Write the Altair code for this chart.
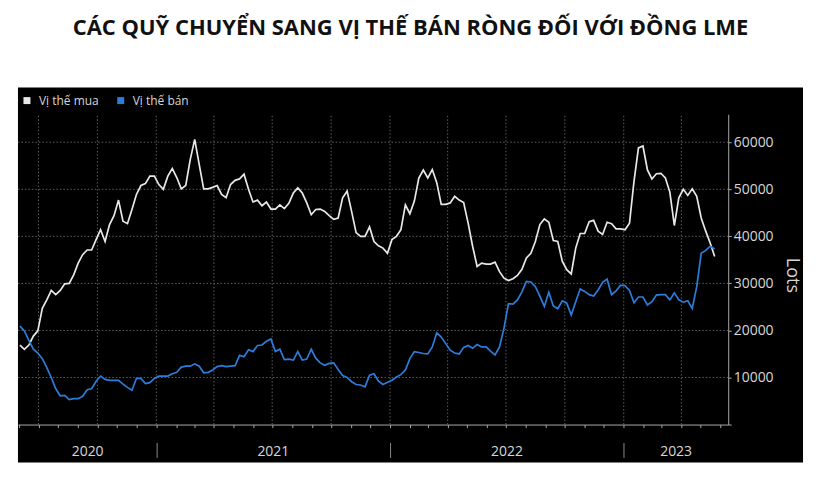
import altair as alt
import pandas as pd

# ---------------- data (weekly, lots) ----------------
first_week = "2020-06-02"
series_names = ["Vị thế mua", "Vị thế bán"]

long_lots = [
    16900, 16000, 16900, 18800, 19900, 24700, 26500, 28500, 27600, 28500,
    29900, 30000, 31800, 34300, 36100, 37100, 37100, 39300, 41400, 38900,
    42500, 44400, 47700, 43200, 42700, 45700, 48900, 50800, 51200, 52800,
    52800, 51000, 50000, 52800, 54400, 52500, 50100, 50800, 56300, 60600,
    55300, 50100, 50100, 50400, 50800, 48900, 48200, 51000, 51900, 52200,
    53200, 50000, 47300, 47700, 46500, 47300, 45800, 45800, 46700, 45900,
    47000, 49200, 50300, 49200, 47100, 44600, 45700, 45800, 45300, 44400,
    43600, 43900, 48200, 49600, 45300, 40800, 40000, 40000, 42000, 38900,
    38000, 37500, 36400, 39300, 40000, 41400, 46700, 44800, 47500, 52400,
    54100, 52400, 54200, 51400, 46800, 46800, 47100, 48500, 47700, 47200,
    42800, 37900, 33600, 34300, 34100, 34100, 34500, 32500, 31100, 30600,
    31000, 31700, 33000, 35400, 36400, 38900, 42500, 43700, 43000, 39100,
    38900, 34700, 32900, 32000, 37500, 40600, 40600, 43100, 43400, 41100,
    40400, 43000, 42700, 41600, 41600, 41400, 42800, 51700, 58800, 59200,
    54100, 52200, 53300, 53400, 52400, 49400, 42300, 48200, 50000, 48700,
    50100, 48500, 43900, 41100, 38600, 35700,
]

short_lots = [
    20900, 19900, 17900, 16000, 15200, 14000, 12100, 10000, 7600, 6100,
    6200, 5300, 5500, 5500, 6000, 7400, 7600, 9200, 10300, 9600,
    9400, 9400, 9400, 8600, 7900, 7300, 9800, 9800, 8700, 8900,
    9800, 10300, 10300, 10300, 10800, 11100, 12200, 12400, 12400, 12900,
    12400, 11000, 11100, 11600, 12300, 12500, 12300, 12400, 12500, 14700,
    14400, 15900, 15500, 16800, 16900, 17700, 18200, 15500, 16000, 13800,
    13900, 13700, 15500, 13700, 13900, 16000, 14100, 13100, 12600, 13000,
    13100, 11700, 10400, 10000, 9100, 8500, 8400, 8000, 10500, 10800,
    9200, 8500, 9000, 9400, 10100, 10600, 11600, 14000, 15500, 15300,
    15100, 15000, 16500, 19500, 18600, 17200, 15800, 15200, 15000, 16400,
    16800, 16200, 17000, 16500, 16500, 15600, 14800, 16500, 20500, 25700,
    25600, 26500, 28200, 30400, 30300, 29300, 27300, 25100, 28100, 25200,
    24600, 26300, 25800, 23300, 26100, 28800, 28300, 27600, 27300, 28600,
    30200, 30900, 27600, 28400, 29600, 29500, 28500, 25900, 27100, 27100,
    25400, 26100, 27500, 27600, 27600, 26500, 28000, 26500, 26000, 26300,
    24700, 29300, 36400, 37000, 37900, 37300,
]

y_tick_values = [0, 5000, 10000, 15000, 20000, 25000, 30000, 35000,
                 40000, 45000, 50000, 55000, 60000, 65000]
y_grid_values = [10000, 20000, 30000, 40000, 50000, 60000]
y_axis_top = 66000

year_boundaries = ["2021-01-01", "2022-01-01", "2023-01-01"]
year_label_dates = ["2020-09-15", "2021-07-02", "2022-07-02", "2023-03-23"]
quarter_grid_dates = [
    "2020-07-01", "2020-10-01", "2021-01-01", "2021-04-01", "2021-07-01",
    "2021-10-01", "2022-01-01", "2022-04-01", "2022-07-01", "2022-10-01",
    "2023-01-01", "2023-04-01",
]
month_tick_start, month_tick_end = "2020-06-01", "2023-06-01"
panel_start, axis_end, panel_end = "2020-05-30", "2023-06-13", "2023-10-08"
y_panel = [-8060, 71660]

# ---------------- tables ----------------
dates = pd.date_range(first_week, periods=len(long_lots), freq="7D")
df = pd.concat([
    pd.DataFrame({"date": dates, "value": long_lots, "series": series_names[0]}),
    pd.DataFrame({"date": dates, "value": short_lots, "series": series_names[1]}),
])

hgrid = pd.DataFrame({"y": y_grid_values,
                      "x0": pd.Timestamp(panel_start),
                      "x1": pd.Timestamp(axis_end)})
vgrid = pd.DataFrame({"d": pd.to_datetime(quarter_grid_dates),
                      "y0": 0, "y1": y_axis_top})


def dt(s):
    t = pd.Timestamp(s)
    return alt.DateTime(year=t.year, month=t.month, date=t.day)


month_ticks = [dt(t) for t in pd.date_range(month_tick_start, month_tick_end, freq="MS")]

FONT = "Open Sans"
TXT = "#d6d6d6"
AXC = "#a8a8a8"

xscale = alt.Scale(domain=[dt(panel_start), dt(panel_end)])
yscale = alt.Scale(domain=y_panel, nice=False, zero=False)

# horizontal grid + year separators axis
h_layer = alt.Chart(hgrid).mark_rule(
    color="#5e5e5e", strokeDash=[1.5, 2], strokeWidth=1
).encode(
    x=alt.X("x0:T", scale=xscale, axis=alt.Axis(
        orient="bottom", offset=-20, values=[dt(v) for v in year_boundaries],
        labels=False, domain=False, ticks=True, tickSize=15,
        tickColor="#8a8a8a", tickWidth=1, grid=False, title=None)),
    x2="x1:T",
    y=alt.Y("y:Q", scale=yscale),
)

# vertical grid + year labels axis
v_layer = alt.Chart(vgrid).mark_rule(
    color="#5e5e5e", strokeDash=[1.5, 2], strokeWidth=1
).encode(
    x=alt.X("d:T", scale=xscale, axis=alt.Axis(
        orient="bottom", offset=-38, values=[dt(v) for v in year_label_dates],
        format="%Y", labels=True, ticks=False, tickSize=0, domain=False,
        labelPadding=27, labelBaseline="middle", labelFontSize=14,
        labelFont=FONT, labelColor=TXT, grid=False, title=None,
        labelOverlap=False, labelFlush=False)),
    y=alt.Y("y0:Q", scale=yscale),
    y2="y1:Q",
)

# data lines + monthly ticks axis + right value axis
lines = alt.Chart(df).mark_line(strokeWidth=1.7).encode(
    x=alt.X("date:T", scale=xscale, axis=alt.Axis(
        orient="bottom", offset=-38, values=month_ticks, labels=False,
        ticks=True, tickSize=3, tickColor=AXC, domain=True,
        domainColor=AXC, domainDash=[712, 200], grid=False, title=None)),
    y=alt.Y("value:Q", scale=yscale, axis=alt.Axis(
        orient="right", offset=-75, values=y_tick_values,
        labelExpr="datum.value % 10000 == 0 && datum.value > 0 ? format(datum.value, 'd') : ''",
        tickSize=3, tickColor=AXC, domainColor=AXC,
        domainDash=[0, 38, 311, 200], grid=False,
        labelFontSize=14, labelFont=FONT, labelColor=TXT, labelPadding=2,
        title="Lots", titleFontSize=18, titleFont=FONT, titleColor=TXT,
        titleFontWeight="normal", titlePadding=9)),
    color=alt.Color("series:N", scale=alt.Scale(
        domain=series_names, range=["#e8e8e8", "#2c7ddb"]),
        legend=alt.Legend(
            orient="none", legendX=1, legendY=5, direction="horizontal",
            title=None, symbolType="square", symbolSize=9,
            symbolStrokeWidth=4, labelFontSize=12, labelFont=FONT,
            labelColor=TXT, labelOffset=6, columnPadding=12, padding=2)),
    order=alt.Order("series:N", sort="descending"),
)

chart = alt.layer(h_layer, v_layer, lines).resolve_axis(
    x="independent"
).properties(
    width=787, height=376,
    padding={"left": 8, "top": 8, "right": 14, "bottom": 8},
    title=alt.TitleParams(
        "CÁC QUỸ CHUYỂN SANG VỊ THẾ BÁN RÒNG ĐỐI VỚI ĐỒNG LME",
        fontSize=22, font=FONT, fontWeight="bold", color="#111111",
        anchor="middle", offset=48),
    background="white",
).configure_view(
    fill="black", stroke=None
).configure_axis(grid=False)

chart.save("out.html", embed_options={"renderer": "svg", "actions": False})
